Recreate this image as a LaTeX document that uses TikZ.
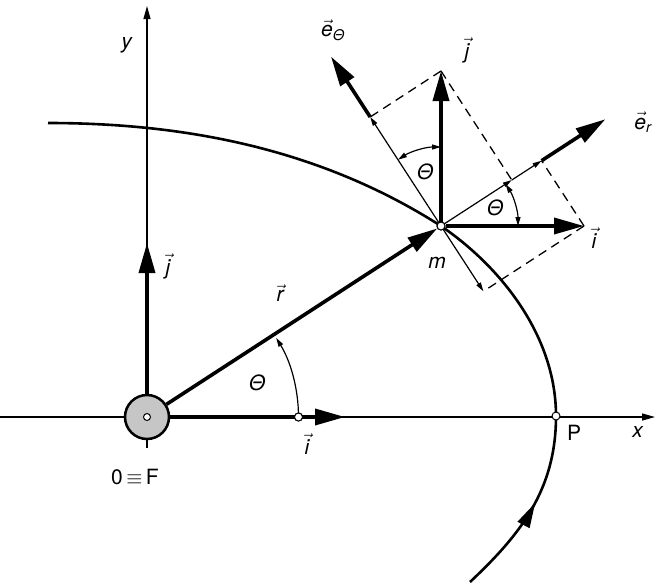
\documentclass[tikz,border=0pt]{standalone}
\usepackage{amsmath}
\usepackage{fontspec}
\setmainfont{TeX Gyre Heros}
\usetikzlibrary{arrows.meta,calc,decorations.markings}
\newcommand{\vc}[1]{\ensuremath{\vec{\textit{#1}}}}
\begin{document}
\begin{tikzpicture}[x=1pt,y=-1pt,
  font=\fontsize{21}{25}\selectfont,
  thinl/.style={line width=1.2pt},
  vecl/.style={line width=3.6pt,-{Triangle[length=30pt,width=16pt]}},
  smallarr/.style={-{Triangle[length=9pt,width=5pt]}},
  dashl/.style={line width=1.3pt,dash pattern=on 9pt off 6pt},
  dot/.style={circle,draw,fill=white,line width=1pt,minimum size=8pt,inner sep=0pt},
  orbit/.style={line width=2.6pt}]
\useasboundingbox (0,0) rectangle (656,584);
% coordinates
\coordinate (O) at (147,417);
\coordinate (M) at (441,226);
\coordinate (IT) at ($(M)+(143,0)$);
\coordinate (JT) at ($(M)+(0,-155)$);
\coordinate (ER) at ($(M)+(-33:196)$);
\coordinate (ET) at ($(M)+(-123:202)$);
\coordinate (Pjr) at ($(M)!(JT)!(ER)$);
\coordinate (Pir) at ($(M)!(IT)!(ER)$);
\coordinate (Pjt) at ($(M)!(JT)!(ET)$);
\coordinate (Pit) at ($(M)!(IT)!(ET)$);
\coordinate (JO) at (147,243);
\coordinate (IO) at (345,417);
\coordinate (Ytop) at (147,6);
\coordinate (Ybot) at (147,448);
\coordinate (Xl) at (0,417);
\coordinate (Xr) at (655,417);
\coordinate (Ob) at (470,582);
\coordinate (Ot) at (48,123);
% axes
\draw[thinl,-{Triangle[length=13pt,width=7pt]}] (Ybot) -- (Ytop);
\draw[thinl,-{Triangle[length=13pt,width=7pt]}] (Xl) -- (Xr);
% orbit
\draw[orbit,postaction={decorate},decoration={markings,mark=at position 103pt with {\arrow{Triangle[length=25pt,width=13pt]}}}]
  (Ob) .. controls (520,535) and (556,490) .. (556,416)
       .. controls (556,336) and (501,267) .. (M)
       .. controls (330,155) and (200,123) .. (Ot);
% origin body
\node[circle,draw,fill=gray!45,line width=2.5pt,minimum size=44pt,inner sep=0pt] (F) at (O) {};
\node[dot,minimum size=7pt] (Fc) at (O) {};
\node[dot] (A) at (298.5,417) {};
\node[dot] (P) at (556,416) {};
% origin arc
\draw[thinl,smallarr] (A.center) arc[start angle=0,end angle=-31.5,radius=151.5];
% dashed projections
\draw[dashl] (JT) -- (Pjt);
\draw[dashl] (JT) -- (Pjr);
\draw[dashl] (IT) -- (Pir);
\draw[dashl] (IT) -- (Pit);
% thin parts at m
\draw[thinl,smallarr] (M) -- (Pjr);
\draw[thinl,smallarr] (Pjr) -- (Pir);
\draw[thinl,smallarr] (M) -- (Pjt);
\draw[thinl,smallarr] (M) -- (Pit);
% angle arcs at m
\draw[thinl,{Triangle[length=9pt,width=5pt]}-{Triangle[length=9pt,width=5pt]}] ($(M)+(0:77)$) arc[start angle=0,end angle=-33,radius=77];
\draw[thinl,{Triangle[length=9pt,width=5pt]}-{Triangle[length=9pt,width=5pt]}] ($(M)+(-90:79)$) arc[start angle=-90,end angle=-123,radius=79];
% vectors
\node[dot] (m) at (M) {};
\draw[vecl] (Pir) -- (ER);
\draw[vecl] (Pjt) -- (ET);
\draw[vecl] (m) -- (IT);
\draw[vecl] (m) -- (JT);
\draw[vecl] (F) -- (m);
\draw[vecl] (F) -- (JO);
\draw[vecl] (F) -- (IO);
\node[dot] at (A) {};
\node[dot] at (M) {};
% labels
\node at (127,45) {\textit{y}};
\node at (638,432) {\textit{x}};
\node at (574,433) {P};
\node at (135,477) {0\,$\equiv$\,F};
\node at (168,266) {\vc{j}};
\node at (307,444) {\vc{i}};
\node at (280,293) {\vc{r}};
\node at (257,383) {\textit{Θ}};
\node at (437,263) {\textit{m}};
\node at (594,238) {\vc{i}};
\node at (467,50) {\vc{j}};
\node at (643,122) {$\vec{\textit{e}}_{\textit{r}}$};
\node at (333,30) {$\vec{\textit{e}}_{\textit{Θ}}$};
\node at (425,172) {\textit{Θ}};
\node at (495,208) {\textit{Θ}};
\end{tikzpicture}
\end{document}
